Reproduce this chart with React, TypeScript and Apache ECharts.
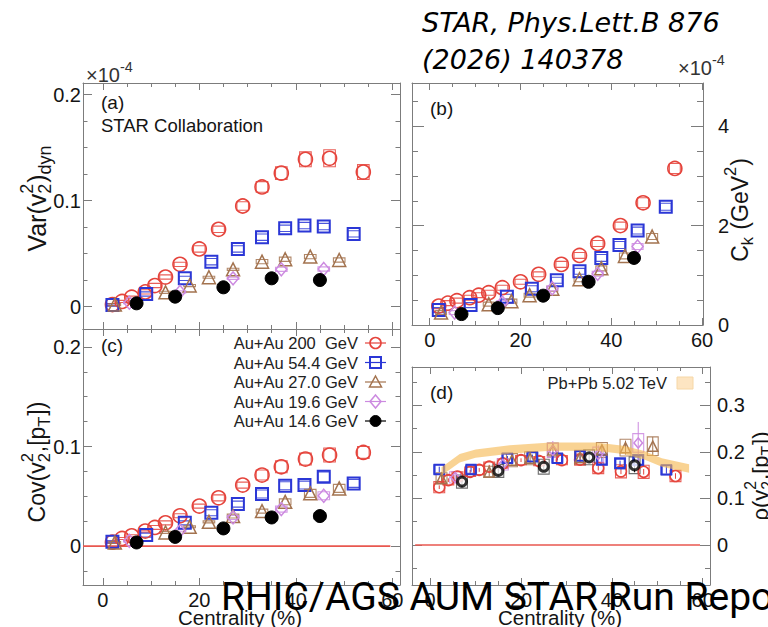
import React, { useEffect, useRef } from 'react';
import * as echarts from 'echarts';

// ---------------- data ----------------
const cent200 = [2, 4, 6, 8.8, 10.8, 13, 16, 20, 24, 29, 33, 37, 42, 47, 54];
const cent54 = [2, 9, 17, 22.5, 28, 33, 37.8, 41.8, 45.8, 52];
const cent27 = [2.5, 13, 18, 22, 27, 33, 37.8, 43, 49];
const cent19 = [5.5, 16, 27, 37, 45.8];
const cent14 = [7, 15, 25, 35, 45];

// (a) Var(v2^2)dyn  (x1e-4)
const var200 = [0.002, 0.005, 0.009, 0.014, 0.02, 0.028, 0.04, 0.0545, 0.073, 0.095, 0.113, 0.126, 0.139, 0.14, 0.127];
const var54 = [0.0016, 0.012, 0.0268, 0.0425, 0.0545, 0.0656, 0.074, 0.0766, 0.0756, 0.0687];
const var27 = [0.002, 0.0136, 0.02, 0.0278, 0.0353, 0.0425, 0.0448, 0.0473, 0.0441];
const var19 = [0.0038, 0.014, 0.0268, 0.0353, 0.0356];
const var14 = [0.0032, 0.0095, 0.0183, 0.0268, 0.0252];
const sysVar200 = [0.001, 0.001, 0.001, 0.002, 0.002, 0.002, 0.002, 0.003, 0.003, 0.004, 0.005, 0.006, 0.007, 0.008, 0.007];
const sysVar54 = [0.001, 0.002, 0.002, 0.003, 0.003, 0.003, 0.003, 0.003, 0.003, 0.003];
const sysVar27 = [0.001, 0.001, 0.001, 0.001, 0.001, 0.002, 0.002, 0.002, 0.002];
const sysVar19 = [0.001, 0.001, 0.001, 0.002, 0.002];
const sysVar14 = [0, 0, 0, 0, 0];

// (b) Ck (GeV^2) (x1e-4)
const ck200 = [0.38, 0.44, 0.49, 0.55, 0.6, 0.65, 0.75, 0.87, 1.02, 1.22, 1.4, 1.64, 2.0, 2.46, 3.15];
const ck54 = [0.3, 0.4, 0.57, 0.73, 0.9, 1.08, 1.35, 1.61, 1.9, 2.38];
const ck27 = [0.25, 0.42, 0.48, 0.6, 0.73, 0.92, 1.14, 1.39, 1.78];
const ck19 = [0.25, 0.45, 0.74, 1.03, 1.58];
const ck14 = [0.22, 0.34, 0.59, 0.87, 1.35];
const sysCk200 = [0.05, 0.05, 0.05, 0.05, 0.05, 0.05, 0.05, 0.05, 0.05, 0.06, 0.06, 0.06, 0.07, 0.1, 0.1];
const sysCk54 = [0.05, 0.05, 0.05, 0.06, 0.06, 0.06, 0.07, 0.07, 0.07, 0.07];
const sysCk27 = [0.04, 0.04, 0.04, 0.04, 0.05, 0.05, 0.05, 0.06, 0.06];
const sysCk19 = [0.04, 0.04, 0.05, 0.05, 0.06];
const sysCk14 = [0, 0, 0, 0, 0];

// (c) Cov(v2^2,[pT])
const cov200 = [0.004, 0.0077, 0.0104, 0.0151, 0.0188, 0.0234, 0.0305, 0.0402, 0.0485, 0.0613, 0.0714, 0.0797, 0.0874, 0.0915, 0.0941];
const cov54 = [0.0043, 0.0111, 0.0234, 0.0335, 0.0422, 0.0523, 0.0606, 0.0613, 0.0696, 0.063];
const cov27 = [0.0037, 0.0138, 0.0194, 0.0244, 0.0302, 0.0352, 0.0445, 0.053, 0.058];
const cov19 = [0.0053, 0.0154, 0.0288, 0.0372, 0.0506];
const cov14 = [0.0037, 0.0093, 0.0178, 0.0288, 0.0302];
const sysCov200 = [0.001, 0.001, 0.001, 0.001, 0.002, 0.002, 0.002, 0.002, 0.003, 0.003, 0.005, 0.006, 0.006, 0.007, 0.006];
const sysCov54 = [0.001, 0.002, 0.002, 0.003, 0.003, 0.004, 0.004, 0.004, 0.005, 0.004];
const sysCov27 = [0.001, 0.001, 0.001, 0.001, 0.002, 0.002, 0.003, 0.004, 0.004];
const sysCov19 = [0.001, 0.001, 0.002, 0.003, 0.004];
const sysCov14 = [0, 0, 0, 0.002, 0.003];

// (d) rho(v2^2,[pT])
const rho200 = [0.124, 0.139, 0.147, 0.157, 0.161, 0.168, 0.175, 0.182, 0.18, 0.182, 0.183, 0.165, 0.158, 0.157, 0.148];
const rho54 = [0.162, 0.162, 0.186, 0.189, 0.186, 0.191, 0.183, 0.175, 0.182, 0.161];
const rho27 = [0.143, 0.157, 0.182, 0.186, 0.204, 0.188, 0.204, 0.209, 0.212];
const rho19 = [0.145, 0.173, 0.203, 0.194, 0.219];
const rho14 = [0.136, 0.159, 0.168, 0.188, 0.171];
const sysRho200 = [0.012, 0.01, 0.01, 0.01, 0.01, 0.01, 0.01, 0.01, 0.01, 0.01, 0.012, 0.012, 0.014, 0.014, 0.012];
const sysRho54 = [0.01, 0.008, 0.01, 0.01, 0.01, 0.01, 0.012, 0.012, 0.012, 0.01];
const sysRho27 = [0.012, 0.012, 0.014, 0.014, 0.015, 0.015, 0.016, 0.018, 0.02];
const sysRho19 = [0.012, 0.012, 0.015, 0.016, 0.02];
const sysRho14 = [0.014, 0.014, 0.016, 0.016, 0.018];
const errRho200 = [0.004, 0.004, 0.004, 0.004, 0.004, 0.004, 0.004, 0.004, 0.004, 0.004, 0.005, 0.005, 0.006, 0.006, 0.006];
const errRho54 = [0.006, 0.005, 0.005, 0.005, 0.005, 0.005, 0.006, 0.006, 0.007, 0.008];
const errRho27 = [0.01, 0.01, 0.01, 0.01, 0.012, 0.01, 0.012, 0.015, 0.02];
const errRho19 = [0.012, 0.012, 0.02, 0.02, 0.045];
const errRho14 = [0.012, 0.01, 0.01, 0.01, 0.015];

// Pb+Pb 5.02 TeV band
const bandX = [2.5, 6.5, 10, 17.5, 26.5, 36.5, 42.5, 47, 51, 57];
const bandY = [0.158, 0.186, 0.196, 0.205, 0.211, 0.211, 0.204, 0.193, 0.177, 0.164];

const zeroLineC = [-4.1, 59.6];
const zeroLineD = [-3.3, 59.4];

// tick labels
const xTickLabels = [0, 20, 40, 60];
const yTicksA = [0, 0.1, 0.2];
const yTicksB = [0, 2, 4];
const yTicksC = [0, 0.1, 0.2];
const yTicksD = [0, 0.1, 0.2, 0.3];

const legendNames = ['Au+Au 200  GeV', 'Au+Au 54.4 GeV', 'Au+Au 27.0 GeV', 'Au+Au 19.6 GeV', 'Au+Au 14.6 GeV'];

// ---------------- styles ----------------
const FONT = '"Liberation Sans", Arial, Helvetica, sans-serif';
const TEXT = '#141414';
const FRAME = '#7c7c7c';
const BOX_HW = 1.2;
const BAND_HW = 0.009;

const STY = [
  { color: '#e5443c', symbol: 'circle', size: 14, filled: false, bw: 1.6 },
  { color: '#2b37d6', symbol: 'rect', size: 12, filled: false, bw: 2 },
  { color: '#a3734f', symbol: 'triangle', size: 13, filled: false, bw: 1.5 },
  { color: '#cc8ae0', symbol: 'diamond', size: [11, 13], filled: false, bw: 1.5 },
  { color: '#000000', symbol: 'circle', size: 13, filled: true, bw: 1 },
];

const cents = [cent200, cent54, cent27, cent19, cent14];

const PANELS: any[] = [
  { grid: { left: 83, top: 83, width: 317, height: 246 }, xr: [-4.1, 61.6], yr: [-0.021, 0.211], yTicks: yTicksA, yStep: 0.025, ySide: 'left', showX: false,
    ys: [var200, var54, var27, var19, var14], sys: [sysVar200, sysVar54, sysVar27, sysVar19, sysVar14], yLen: 9, scale: 1 },
  { grid: { left: 412, top: 83, width: 291, height: 242 }, xr: [-3.9, 60.2], yr: [0, 4.87], yTicks: yTicksB, yStep: 0.5, ySide: 'right', showX: true, yMargin: 15,
    ys: [ck200, ck54, ck27, ck19, ck14], sys: [sysCk200, sysCk54, sysCk27, sysCk19, sysCk14], yLen: 12, scale: 1 },
  { grid: { left: 83, top: 329, width: 317, height: 256 }, xr: [-4.1, 61.6], yr: [-0.039, 0.218], yTicks: yTicksC, yStep: 0.025, ySide: 'left', showX: true,
    ys: [cov200, cov54, cov27, cov19, cov14], sys: [sysCov200, sysCov54, sysCov27, sysCov19, sysCov14], zero: zeroLineC, yLen: 9, scale: 1 },
  { grid: { left: 412, top: 367, width: 298, height: 218 }, xr: [-4, 61.6], yr: [-0.086, 0.382], yTicks: yTicksD, yStep: 0.05, ySide: 'right', showX: true, yMargin: 7,
    ys: [rho200, rho54, rho27, rho19, rho14], sys: [sysRho200, sysRho54, sysRho27, sysRho19, sysRho14],
    err: [errRho200, errRho54, errRho27, errRho19, errRho14], zero: zeroLineD, band: true, yLen: 10, scale: 0.78 },
];

function steps(min: number, max: number, step: number) {
  const out: number[] = [];
  for (let k = Math.ceil(min / step - 1e-9); k * step <= max + 1e-9; k++) out.push(+(k * step).toFixed(6));
  return out;
}
const fmt = (v: any) => String(+(+v).toFixed(4));

// text measuring for formula-like titles
let _ctx: any = null;
function tw(text: string, size: number, family: string, italic = false) {
  if (!_ctx) _ctx = document.createElement('canvas').getContext('2d');
  _ctx.font = `${italic ? 'italic ' : ''}${size}px ${family}`;
  return _ctx.measureText(text).width;
}
function txt(text: string, x: number, y: number, size: number, o: any = {}) {
  return {
    type: 'text', x, y, z: 100, silent: true,
    style: {
      text, fontSize: size, fontFamily: o.family || FONT, fontStyle: o.italic ? 'italic' : 'normal',
      fill: o.color || TEXT, align: o.align || 'left', verticalAlign: 'middle', textAlign: o.align || 'left', textVerticalAlign: 'middle',
    },
  };
}
function formula(segs: any[], o: any) {
  const size = o.size; const family = o.family || FONT;
  const small = size * (o.subScale || 0.72);
  const children: any[] = [];
  let cx = 0;
  for (const s of segs) {
    if (s.t !== undefined) {
      children.push(txt(s.t, cx, 0, size, o));
      cx += tw(s.t, size, family);
    } else {
      let w = 0;
      if (s.sup) { children.push(txt(s.sup, cx, -size * 0.42, small, o)); w = Math.max(w, tw(s.sup, small, family)); }
      if (s.sub) { children.push(txt(s.sub, cx, size * 0.32, small, o)); w = Math.max(w, tw(s.sub, small, family)); }
      cx += w + size * 0.04;
    }
  }
  const shift = o.anchor === 'center' ? -cx / 2 : o.anchor === 'right' ? -cx : 0;
  children.forEach((c) => { c.x += shift; });
  return { type: 'group', x: o.x, y: o.y, rotation: o.rotation || 0, z: 100, children };
}

function buildOption() {
  const grid: any[] = [];
  const xAxis: any[] = [];
  const yAxis: any[] = [];
  const series: any[] = [];
  const tickStyle = { color: FRAME, width: 1 };
  const lineOn = { show: true, onZero: false, lineStyle: { color: FRAME, width: 1 } };
  const lineOff = { show: false, onZero: false };
  const lbl = { fontSize: 20, fontFamily: FONT, color: TEXT, formatter: fmt };

  PANELS.forEach((p, gi) => {
    grid.push({ ...p.grid, outerBoundsMode: 'none', containLabel: false });
    const xMinor = steps(p.xr[0], p.xr[1], 5);
    const yMinor = steps(p.yr[0], p.yr[1], p.yStep);
    const xb = { gridIndex: gi, type: 'value', min: p.xr[0], max: p.xr[1], splitLine: { show: false }, silent: true };
    const yb = { gridIndex: gi, type: 'value', min: p.yr[0], max: p.yr[1], splitLine: { show: false }, silent: true };
    ['bottom', 'top'].forEach((pos) => {
      xAxis.push({ ...xb, position: pos, axisLine: lineOn,
        axisTick: { show: true, inside: true, length: 7, customValues: xTickLabels, lineStyle: tickStyle },
        axisLabel: { show: pos === 'bottom' && p.showX, customValues: xTickLabels, margin: 5, ...lbl } });
      xAxis.push({ ...xb, position: pos, axisLine: lineOff,
        axisTick: { show: true, inside: true, length: 4, customValues: xMinor, lineStyle: tickStyle },
        axisLabel: { show: false } });
    });
    ['left', 'right'].forEach((pos) => {
      yAxis.push({ ...yb, position: pos, axisLine: lineOn,
        axisTick: { show: true, inside: true, length: p.yLen, customValues: p.yTicks, lineStyle: tickStyle },
        axisLabel: { show: pos === p.ySide, customValues: p.yTicks, margin: pos === 'left' ? 2 : p.yMargin, ...lbl } });
      yAxis.push({ ...yb, position: pos, axisLine: lineOff,
        axisTick: { show: true, inside: true, length: p.yLen / 2, customValues: yMinor, lineStyle: tickStyle },
        axisLabel: { show: false } });
    });
    const xi = gi * 4; const yi = gi * 4;

    if (p.zero) {
      series.push({ type: 'line', xAxisIndex: xi, yAxisIndex: yi, data: [[p.zero[0], 0], [p.zero[1], 0]], symbol: 'none', silent: true,
        lineStyle: { color: '#e8574f', width: 1.6 }, z: 1 });
    }
    if (p.band) {
      series.push({ type: 'custom', xAxisIndex: xi, yAxisIndex: yi, silent: true, z: 4,
        data: bandX.map((x, i) => [x, bandY[i]]),
        renderItem: (params: any, api: any) => {
          if (params.dataIndex !== 0) return null;
          const up = bandX.map((x, i) => api.coord([x, bandY[i] + BAND_HW]));
          const lo = bandX.map((x, i) => api.coord([x, bandY[i] - BAND_HW])).reverse();
          return { type: 'polygon', shape: { points: up.concat(lo) }, style: { fill: 'rgba(246,184,80,0.62)', stroke: 'none' } };
        } });
    }
    STY.forEach((s, k) => {
      const xs = cents[k]; const ys = p.ys[k]; const sy = p.sys[k];
      const boxColor = k === 4 ? '#555555' : s.color;
      series.push({ type: 'custom', xAxisIndex: xi, yAxisIndex: yi, silent: true, z: 2,
        data: xs.map((c: number, j: number) => [c, ys[j], sy[j]]),
        renderItem: (params: any, api: any) => {
          const x = api.value(0), y = api.value(1), e = api.value(2);
          if (!e) return null;
          const p0 = api.coord([x - BOX_HW, y + e]);
          const p1 = api.coord([x + BOX_HW, y - e]);
          return { type: 'rect', shape: { x: p0[0], y: p0[1], width: p1[0] - p0[0], height: p1[1] - p0[1] },
            style: { fill: 'none', stroke: boxColor, lineWidth: 1.1, opacity: 0.85 } };
        } });
      if (p.err) {
        const er = p.err[k];
        series.push({ type: 'custom', xAxisIndex: xi, yAxisIndex: yi, silent: true, z: 2,
          data: xs.map((c: number, j: number) => [c, ys[j], er[j]]),
          renderItem: (params: any, api: any) => {
            const x = api.value(0), y = api.value(1), e = api.value(2);
            const a = api.coord([x, y - e]); const b = api.coord([x, y + e]);
            return { type: 'line', shape: { x1: a[0], y1: a[1], x2: b[0], y2: b[1] }, style: { stroke: s.color, lineWidth: 1 } };
          } });
      }
      const ring = p.band && k === 4;
      const size = Array.isArray(s.size) ? s.size.map((v: number) => v * p.scale) : (s.size as number) * p.scale;
      series.push({ type: 'scatter', name: legendNames[k], xAxisIndex: xi, yAxisIndex: yi, silent: true, z: 3,
        data: xs.map((c: number, j: number) => [c, ys[j]]),
        symbol: s.symbol, symbolSize: ring ? 9 : size,
        itemStyle: ring ? { color: '#ffffff', borderColor: '#000', borderWidth: 3 }
          : { color: s.filled ? s.color : 'rgba(0,0,0,0)', borderColor: s.color, borderWidth: s.bw, opacity: 1 } });
    });
  });

  // ---------------- graphic texts ----------------
  const g: any[] = [];
  g.push(txt('(a)', 101, 102, 19));
  g.push(txt('STAR Collaboration', 101, 125, 18.5));
  g.push(txt('(b)', 430, 108, 19));
  g.push(txt('(c)', 101, 345, 19));
  g.push(txt('(d)', 430, 392, 19));
  g.push(formula([{ t: '×10' }, { sup: '-4' }], { x: 86, y: 75, size: 20, color: '#333' }));
  g.push(formula([{ t: '×10' }, { sup: '-4' }], { x: 678, y: 68, size: 20, color: '#333' }));
  g.push(formula([{ t: 'Var(v' }, { sub: '2', sup: '2' }, { t: ')' }, { sub: 'dyn' }], { x: 37, y: 198, size: 25, rotation: Math.PI / 2, anchor: 'center' }));
  g.push(formula([{ t: 'Cov(v' }, { sub: '2', sup: '2' }, { t: ',[p' }, { sub: 'T' }, { t: '])' }], { x: 37, y: 462, size: 23, rotation: Math.PI / 2, anchor: 'center' }));
  g.push(formula([{ t: 'C' }, { sub: 'k' }, { t: ' (GeV' }, { sup: '2' }, { t: ')' }], { x: 740, y: 210, size: 23, rotation: Math.PI / 2, anchor: 'center' }));
  g.push(formula([{ t: 'ρ(v' }, { sub: '2', sup: '2' }, { t: ',[p' }, { sub: 'T' }, { t: '])' }], { x: 760, y: 476, size: 22, rotation: Math.PI / 2, anchor: 'center' }));
  g.push(txt('Centrality (%)', 240, 617, 20.5, { align: 'center' }));
  g.push(txt('Centrality (%)', 560, 617, 20.5, { align: 'center' }));

  // legend (c)
  legendNames.forEach((name, i) => {
    const y = 343 + i * 19.5;
    const s = STY[i];
    g.push(txt(name, 358, y, 16.5, { align: 'right', color: '#222' }));
    g.push({ type: 'line', z: 100, silent: true, shape: { x1: 365, y1: y, x2: 386, y2: y }, style: { stroke: s.color, lineWidth: 1.2 } });
    const cx = 375.5;
    const st = { fill: s.filled ? s.color : 'none', stroke: s.color, lineWidth: s.bw };
    if (s.symbol === 'circle') g.push({ type: 'circle', z: 101, silent: true, shape: { cx, cy: y, r: 5.5 }, style: st });
    if (s.symbol === 'rect') g.push({ type: 'rect', z: 101, silent: true, shape: { x: cx - 5.5, y: y - 5.5, width: 11, height: 11 }, style: st });
    if (s.symbol === 'triangle') g.push({ type: 'polygon', z: 101, silent: true, shape: { points: [[cx, y - 6], [cx + 6, y + 5], [cx - 6, y + 5]] }, style: st });
    if (s.symbol === 'diamond') g.push({ type: 'polygon', z: 101, silent: true, shape: { points: [[cx, y - 6.5], [cx + 5.5, y], [cx, y + 6.5], [cx - 5.5, y]] }, style: st });
  });
  // legend (d)
  g.push(txt('Pb+Pb 5.02 TeV', 667, 383, 16.5, { align: 'right', color: '#222' }));
  g.push({ type: 'rect', z: 100, silent: true, shape: { x: 677, y: 377, width: 16, height: 12 }, style: { fill: '#fde5c2', stroke: '#f6d7a6', lineWidth: 1 } });

  // header and overlay
  g.push(txt('STAR, Phys.Lett.B 876', 422, 22.5, 27, { family: '"DejaVu Sans", sans-serif', italic: true, color: '#000' }));
  g.push(txt('(2026) 140378', 422, 59, 27, { family: '"DejaVu Sans", sans-serif', italic: true, color: '#000' }));
  g.push(txt('RHIC/AGS AUM STAR Run Report', 221, 597, 39, { family: 'Roboto, sans-serif', color: '#000' }));

  return { animation: false, grid, xAxis, yAxis, series, graphic: { elements: g } };
}

export default function App() {
  const ref = useRef<HTMLDivElement>(null);
  useEffect(() => {
    if (!ref.current) return;
    const chart = echarts.init(ref.current, null, { renderer: 'svg' });
    chart.setOption(buildOption() as any);
    return () => chart.dispose();
  }, []);
  return <div ref={ref} style={{ position: 'absolute', left: 0, top: 0, width: 768, height: 627, background: '#fff' }} />;
}
